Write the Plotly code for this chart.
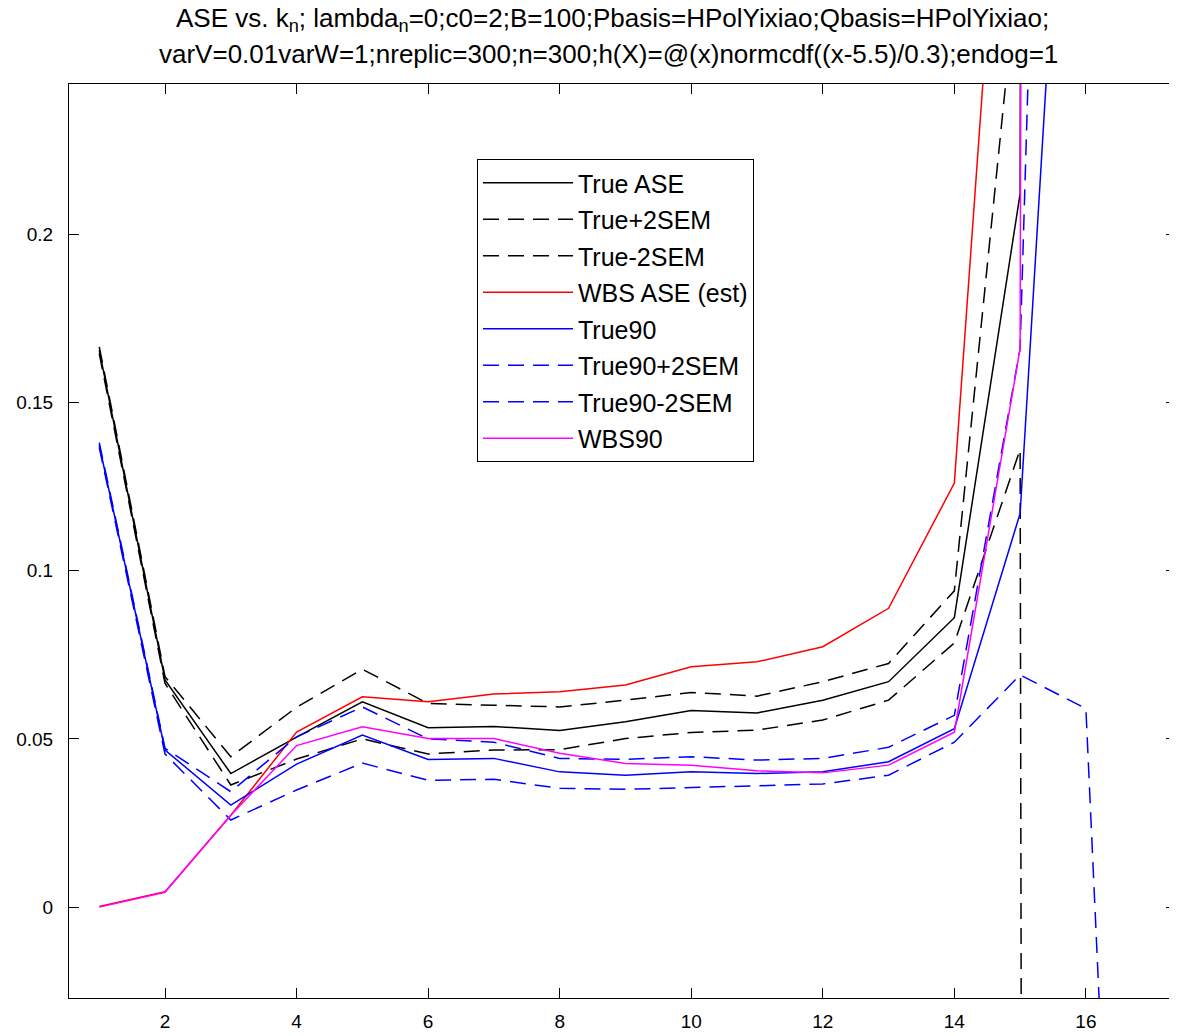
import plotly.graph_objects as go

k = list(range(1, 18))

true_ase = [0.1655, 0.0675, 0.0397, 0.0505, 0.0610, 0.0533, 0.0537, 0.0525, 0.0551,
            0.0584, 0.0577, 0.0615, 0.0670, 0.0860, 0.212, 10.0, None]
true_p2 = [0.1665, 0.0685, 0.0447, 0.0594, 0.0707, 0.0605, 0.0600, 0.0595, 0.0615,
           0.0638, 0.0627, 0.0670, 0.0724, 0.0940, 0.287, 30.0, None]
true_m2 = [0.1645, 0.0665, 0.0363, 0.0440, 0.0500, 0.0455, 0.0467, 0.0468, 0.0501,
           0.0519, 0.0526, 0.0556, 0.0615, 0.0785, 0.136, -10.0, None]
wbs_ase = [0.0002, 0.0046, 0.0273, 0.0520, 0.0625, 0.0610, 0.0633, 0.0640, 0.0660,
           0.0714, 0.0729, 0.0774, 0.0888, 0.126, 0.400, 5.0, None]
true90 = [0.1373, 0.0467, 0.0303, 0.0425, 0.0511, 0.0439, 0.0442, 0.0402, 0.0392,
          0.0402, 0.0397, 0.0402, 0.0432, 0.0530, 0.117, 0.441, None]
true90_p2 = [0.1380, 0.0472, 0.0343, 0.0506, 0.0595, 0.0500, 0.0490, 0.0442, 0.0439,
             0.0447, 0.0437, 0.0442, 0.0475, 0.0570, 0.166, 0.826, None]
true90_m2 = [0.1366, 0.0455, 0.0259, 0.0348, 0.0428, 0.0377, 0.0380, 0.0353, 0.0350,
             0.0355, 0.0362, 0.0366, 0.0392, 0.0490, 0.069, 0.059, -0.37]
wbs90 = [0.0000, 0.0044, 0.0273, 0.0480, 0.0536, 0.0501, 0.0501, 0.0457, 0.0427,
         0.0422, 0.0405, 0.0399, 0.0422, 0.0520, 0.166, 8.0, None]

x_ticks = [2, 4, 6, 8, 10, 12, 14, 16]
y_ticks = [0, 0.05, 0.1, 0.15, 0.2]
y_ticktext = ["0", "0.05", "0.1", "0.15", "0.2"]

series = [
    ("True ASE", true_ase, "#000000", "solid"),
    ("True+2SEM", true_p2, "#000000", "16px,9px"),
    ("True-2SEM", true_m2, "#000000", "16px,9px"),
    ("WBS ASE (est)", wbs_ase, "#ff0000", "solid"),
    ("True90", true90, "#0000ff", "solid"),
    ("True90+2SEM", true90_p2, "#0000ff", "16px,9px"),
    ("True90-2SEM", true90_m2, "#0000ff", "16px,9px"),
    ("WBS90", wbs90, "#ff00ff", "solid"),
]

FONT = "Liberation Sans, Arial, Helvetica, sans-serif"

fig = go.Figure()
for i, (name, ys, col, dash) in enumerate(series):
    fig.add_trace(go.Scatter(
        x=k, y=ys, name=name, mode="lines", legendgroup=f"g{i}",
        line=dict(color=col, width=1.5, dash=dash),
        connectgaps=False,
    ))

# page body has an 8px margin; work in absolute page pixels
OFF = 8
W, H = 1177 - OFF, 1036 - OFF
L_abs, T_abs, R_abs, B_abs = 69, 84, 1176, 998
ml, mt = L_abs - OFF, T_abs - OFF
mr = W - (R_abs - OFF)
mb = H - (B_abs - OFF)
pw = R_abs - L_abs
ph = B_abs - T_abs

def px_x(p):
    return (p - L_abs) / pw

def px_y(p):
    return 1 - (p - T_abs) / ph

fig.update_layout(
    width=W, height=H,
    margin=dict(l=ml, r=mr, t=mt, b=mb, pad=0),
    paper_bgcolor="white", plot_bgcolor="white",
    font=dict(family=FONT, size=19, color="black"),
    showlegend=True,
    legend=dict(
        x=px_x(477), y=px_y(159), xanchor="left", yanchor="top",
        bgcolor="white", bordercolor="black", borderwidth=1,
        font=dict(family=FONT, size=25, color="black"),
        tracegroupgap=1, itemwidth=90,
    ),
    xaxis=dict(
        range=[0.54, 17.37], tickvals=x_ticks,
        ticks="inside", ticklen=10, tickcolor="black", tickwidth=1,
        showline=True, linecolor="black", linewidth=1, mirror="allticks",
        showgrid=False, zeroline=False, ticklabelstandoff=6,
    ),
    yaxis=dict(
        range=[-0.027, 0.2446], tickvals=y_ticks, ticktext=y_ticktext,
        ticks="inside", ticklen=10, tickcolor="black", tickwidth=1,
        showline=True, linecolor="black", linewidth=1, mirror="allticks",
        showgrid=False, zeroline=False, ticklabelstandoff=11,
    ),
    annotations=[
        dict(text="ASE vs. k<sub>n</sub>; lambda<sub>n</sub>=0;c0=2;B=100;Pbasis=HPolYixiao;Qbasis=HPolYixiao;",
             x=px_x(612), y=px_y(20), xref="paper", yref="paper",
             xanchor="center", yanchor="middle", showarrow=False,
             font=dict(family=FONT, size=26, color="black")),
        dict(text="varV=0.01varW=1;nreplic=300;n=300;h(X)=@(x)normcdf((x-5.5)/0.3);endog=1",
             x=px_x(608), y=px_y(54), xref="paper", yref="paper",
             xanchor="center", yanchor="middle", showarrow=False,
             font=dict(family=FONT, size=26, color="black")),
    ],
)

fig.write_html("out.html")
